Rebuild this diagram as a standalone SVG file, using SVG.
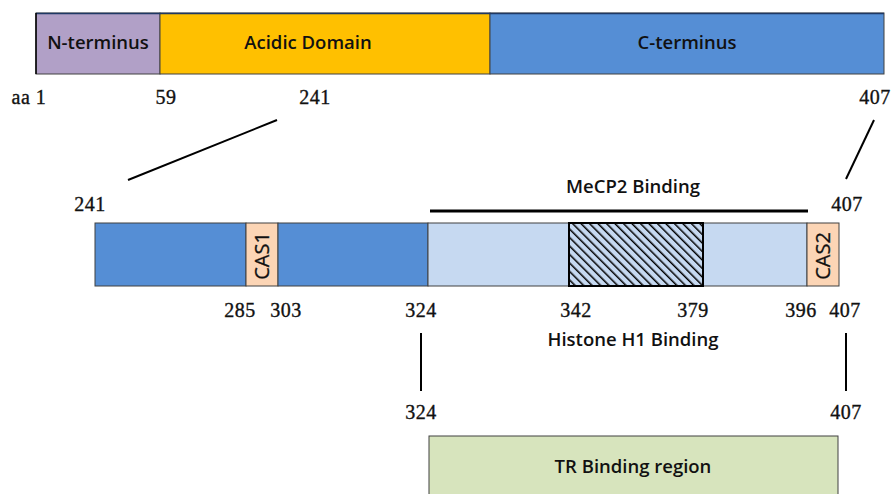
<svg xmlns="http://www.w3.org/2000/svg" width="894" height="494" viewBox="0 0 894 494">
<style>
.lbl{font-family:"Open Sans","Liberation Sans",sans-serif;font-size:18.5px;font-weight:600;fill:#111;text-anchor:middle}
.cas{font-family:"Open Sans","Liberation Sans",sans-serif;font-size:20px;font-weight:400;fill:#111;text-anchor:middle;stroke:#111;stroke-width:0.3}
.num{font-family:"Liberation Serif","DejaVu Serif",serif;font-size:20px;fill:#111;text-anchor:middle;letter-spacing:0.5px;stroke:#111;stroke-width:0.35}
.box{stroke:#404040;stroke-width:1}
.ln{stroke:#000;stroke-width:2;fill:none}
</style>
<defs>
<pattern id="hatch" patternUnits="userSpaceOnUse" width="6" height="6" patternTransform="rotate(-45)">
<rect width="6" height="6" fill="#C6D9F1"/>
<line x1="0" y1="0" x2="0" y2="6" stroke="#000" stroke-width="3"/>
</pattern>
</defs>
<rect width="894" height="494" fill="#fff"/>
<g id="top-bar">
<rect class="box" x="36" y="13" width="124" height="61" fill="#B1A0C7"/>
<rect class="box" x="160" y="13" width="330" height="61" fill="#FFC000"/>
<rect class="box" x="490" y="13" width="394" height="61" fill="#558ED5"/>
<line x1="36" y1="13.5" x2="884" y2="13.5" stroke="#1F3864" stroke-width="1.5"/>
<line x1="36" y1="13" x2="36" y2="74" stroke="#000" stroke-width="1.5"/>
<text class="lbl" x="98" y="49">N-terminus</text>
<text class="lbl" x="308" y="49">Acidic Domain</text>
<text class="lbl" x="687" y="49">C-terminus</text>
</g>
<g id="top-labels">
<text class="num" x="29" y="104">aa 1</text>
<text class="num" x="166" y="104">59</text>
<text class="num" x="315" y="104">241</text>
<text class="num" x="875" y="104">407</text>
</g>
<g id="connectors">
<line class="ln" x1="277" y1="120" x2="128" y2="180"/>
<line class="ln" x1="874" y1="120" x2="846" y2="179"/>
<line x1="430" y1="211" x2="808" y2="211" stroke="#000" stroke-width="3"/>
<line class="ln" x1="421" y1="333" x2="421" y2="391"/>
<line class="ln" x1="846" y1="333" x2="846" y2="391"/>
</g>
<g id="mid-bar">
<rect class="box" x="95" y="223" width="151" height="63" fill="#558ED5"/>
<rect class="box" x="246" y="223" width="32" height="63" fill="#FCD5B5"/>
<rect class="box" x="278" y="223" width="150" height="63" fill="#558ED5"/>
<rect class="box" x="428" y="223" width="379" height="63" fill="#C6D9F1"/>
<rect x="569" y="223" width="134" height="63" fill="url(#hatch)" stroke="#000" stroke-width="2"/>
<rect class="box" x="807" y="223" width="32" height="63" fill="#FCD5B5"/>
<text class="cas" transform="translate(269,256) rotate(-90)">CAS1</text>
<text class="cas" transform="translate(830,256) rotate(-90)">CAS2</text>
</g>
<g id="mid-labels">
<text class="num" x="90" y="211">241</text>
<text class="num" x="847" y="211">407</text>
<text class="lbl" x="633" y="193">MeCP2 Binding</text>
<text class="num" x="240" y="317">285</text>
<text class="num" x="286" y="317">303</text>
<text class="num" x="421" y="317">324</text>
<text class="num" x="576" y="317">342</text>
<text class="num" x="693" y="317">379</text>
<text class="num" x="801" y="317">396</text>
<text class="num" x="845" y="317">407</text>
<text class="lbl" x="633" y="346">Histone H1 Binding</text>
<text class="num" x="421" y="419">324</text>
<text class="num" x="846" y="419">407</text>
</g>
<g id="tr-box">
<rect class="box" x="429" y="436" width="409" height="62" fill="#D7E4BD"/>
<text class="lbl" x="633" y="473">TR Binding region</text>
</g>
</svg>
